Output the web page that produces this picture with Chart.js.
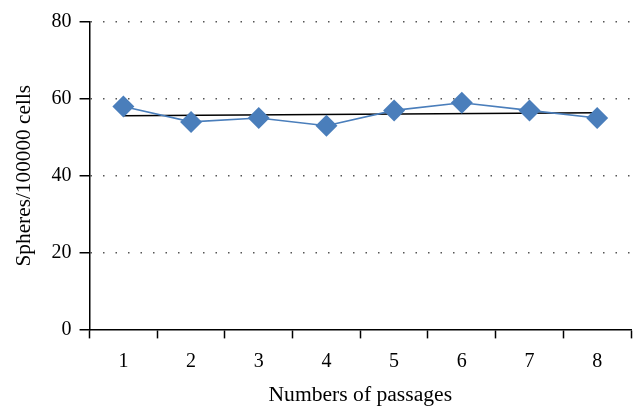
<!DOCTYPE html>
<html>
<head>
<meta charset="utf-8">
<script src="https://cdn.jsdelivr.net/npm/chart.js@4.4.1/dist/chart.umd.min.js"></script>
<style>
  html, body { margin: 0; padding: 0; background: #fff; }
  #wrap { width: 644px; height: 418px; }
</style>
</head>
<body>
<div id="wrap"><canvas id="myChart" width="644" height="418"></canvas></div>
<script>
const passages = ["1", "2", "3", "4", "5", "6", "7", "8"];
const spheres = [58, 54, 55, 53, 57, 59, 57, 55];
// linear trend line at the first and last passage
const trend = [55.6, null, null, null, null, null, null, 56.4];
const yTicks = [0, 20, 40, 60, 80];

const serif = "'Liberation Serif', 'DejaVu Serif', serif";
const blue = "#4a7ebb";

const config = {
  type: "line",
  data: {
    labels: passages,
    datasets: [
      {
        label: "Spheres",
        data: spheres,
        borderColor: blue,
        backgroundColor: blue,
        borderWidth: 1.6,
        pointStyle: "rectRot",
        pointRadius: 11,
        pointHoverRadius: 11,
        pointBorderWidth: 0,
        order: 0
      },
      {
        label: "Trend",
        data: trend,
        spanGaps: true,
        borderColor: "#000",
        borderWidth: 1.6,
        pointRadius: 0,
        order: 1
      }
    ]
  },
  options: {
    responsive: false,
    animation: false,
    layout: { padding: { top: 22, right: 13, left: 12, bottom: 12 } },
    plugins: { legend: { display: false }, tooltip: { enabled: false } },
    scales: {
      x: {
        type: "category",
        offset: true,
        grid: {
          offset: true,
          drawOnChartArea: false,
          tickLength: 9,
          tickColor: "#000",
          tickWidth: 1.5
        },
        border: { color: "#000", width: 1.5 },
        ticks: { color: "#000", font: { family: serif, size: 20, lineHeight: 1 }, padding: 13 },
        title: {
          display: true,
          text: "Numbers of passages",
          color: "#000",
          font: { family: serif, size: 21.6, lineHeight: 1 },
          padding: { top: 0, bottom: 0 }
        }
      },
      y: {
        min: 0,
        max: 80,
        afterBuildTicks: axis => { axis.ticks = yTicks.map(v => ({ value: v })); },
        grid: {
          color: ctx => ctx.tick && ctx.tick.value === 0 ? "rgba(0,0,0,0)" : "#555",
          lineWidth: 1.5,
          tickLength: 10,
          tickColor: "#000",
          tickWidth: 1.5
        },
        border: { color: "#000", width: 1.5, dash: [1.5, 11] },
        ticks: { color: "#000", font: { family: serif, size: 20 }, padding: 8 },
        title: {
          display: true,
          text: "Spheres/100000 cells",
          color: "#000",
          font: { family: serif, size: 21.3 },
          padding: { top: 0, bottom: 6 }
        }
      }
    }
  }
};

new Chart(document.getElementById("myChart"), config);
</script>
</body>
</html>
